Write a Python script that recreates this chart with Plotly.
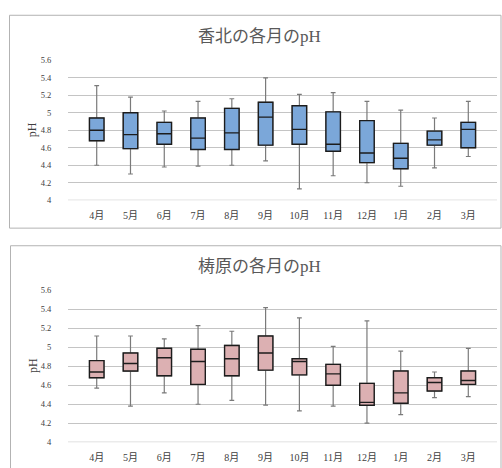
import plotly.graph_objects as go

months = ["4月", "5月", "6月", "7月", "8月", "9月", "10月", "11月", "12月", "1月", "2月", "3月"]

# 香北: monthly pH distribution (whisker ends, quartiles, median)
kohoku_low = [4.40, 4.30, 4.38, 4.39, 4.40, 4.45, 4.13, 4.28, 4.20, 4.16, 4.37, 4.50]
kohoku_q1 = [4.68, 4.59, 4.64, 4.58, 4.58, 4.63, 4.64, 4.56, 4.43, 4.36, 4.63, 4.60]
kohoku_med = [4.80, 4.75, 4.76, 4.71, 4.77, 4.95, 4.81, 4.64, 4.54, 4.48, 4.69, 4.81]
kohoku_q3 = [4.94, 5.00, 4.89, 4.94, 5.05, 5.12, 5.08, 5.01, 4.91, 4.65, 4.79, 4.89]
kohoku_high = [5.31, 5.18, 5.02, 5.13, 5.16, 5.40, 5.21, 5.23, 5.13, 5.03, 4.94, 5.13]

# 梼原: monthly pH distribution
yusuhara_low = [4.57, 4.38, 4.52, 4.40, 4.44, 4.39, 4.33, 4.38, 4.20, 4.29, 4.47, 4.48]
yusuhara_q1 = [4.68, 4.75, 4.70, 4.61, 4.70, 4.76, 4.71, 4.60, 4.39, 4.41, 4.54, 4.61]
yusuhara_med = [4.74, 4.83, 4.89, 4.85, 4.88, 4.94, 4.85, 4.72, 4.42, 4.52, 4.63, 4.65]
yusuhara_q3 = [4.86, 4.94, 4.99, 4.98, 5.02, 5.12, 4.88, 4.82, 4.62, 4.75, 4.68, 4.75]
yusuhara_high = [5.12, 5.12, 5.09, 5.23, 5.17, 5.42, 5.31, 5.01, 5.28, 4.96, 4.74, 4.99]

W, H = 502, 468
SERIF = "Liberation Serif, DejaVu Serif, Noto Sans CJK JP, serif"
GRID = "#c4c4c4"
WHISKER = "#7a7a7a"
OUTLINE = "#1c1c1c"


def px_x(x):
    return x / W


def px_y(y):
    return 1 - y / H


def add_boxes(fig, low, q1, med, q3, high, fill, xa, ya):
    # whiskers with caps (grey)
    fig.add_trace(go.Box(
        x=months, q1=q1, median=med, q3=q3, lowerfence=low, upperfence=high,
        fillcolor=fill, line=dict(color=WHISKER, width=1.2),
        width=0.43, whiskerwidth=0.33, boxpoints=False, hoverinfo="skip",
        xaxis=xa, yaxis=ya, showlegend=False,
    ))
    # box body with dark outline and median line
    fig.add_trace(go.Box(
        x=months, q1=q1, median=med, q3=q3, lowerfence=q1, upperfence=q3,
        fillcolor=fill, line=dict(color=OUTLINE, width=1.4),
        width=0.43, whiskerwidth=0, boxpoints=False,
        xaxis=xa, yaxis=ya, showlegend=False,
    ))


fig = go.Figure()
add_boxes(fig, kohoku_low, kohoku_q1, kohoku_med, kohoku_q3, kohoku_high, "#7ba7d9", "x", "y")
add_boxes(fig, yusuhara_low, yusuhara_q1, yusuhara_med, yusuhara_q3, yusuhara_high, "#dcb0b2", "x2", "y2")

x_dom = [px_x(68), px_x(497)]
xcommon = dict(
    domain=x_dom, showgrid=False, zeroline=False, showline=False,
    ticks="outside", ticklen=6, tickcolor="rgba(0,0,0,0)",
    tickfont=dict(family=SERIF, size=10, color="#404040"),
    categoryorder="array", categoryarray=months, fixedrange=True,
)
ycommon = dict(
    range=[4, 5.6], dtick=0.2, tick0=4, showgrid=True, gridcolor=GRID, gridwidth=1,
    zeroline=False, showline=False,
    ticks="outside", ticklen=14, tickcolor="rgba(0,0,0,0)",
    tickfont=dict(family=SERIF, size=8.5, color="#404040"), fixedrange=True,
)

fig.update_layout(
    width=W, height=H, margin=dict(l=0, r=0, t=0, b=0),
    paper_bgcolor="white", plot_bgcolor="white", boxmode="overlay",
    xaxis=dict(anchor="y", **xcommon),
    yaxis=dict(anchor="x", domain=[px_y(199.5), px_y(56.5)], **ycommon),
    xaxis2=dict(anchor="y2", **xcommon),
    yaxis2=dict(anchor="x2", domain=[px_y(446.7), px_y(291.7)], **ycommon),
)

# x-axis baseline at pH 4 in each panel
for yref in ("y", "y2"):
    fig.add_shape(type="line", xref="paper", yref=yref, x0=x_dom[0], x1=x_dom[1],
                  y0=4, y1=4, line=dict(color=GRID, width=1), layer="below")

# chart frames
fig.add_shape(type="rect", xref="paper", yref="paper",
              x0=px_x(9.5), x1=px_x(501), y0=px_y(228), y1=px_y(10.5),
              line=dict(color="#b3b3b3", width=1))
fig.add_shape(type="rect", xref="paper", yref="paper",
              x0=px_x(10.5), x1=px_x(501), y0=px_y(475), y1=px_y(246),
              line=dict(color="#b3b3b3", width=1))

title_font = dict(family=SERIF, size=17, color="#595959")
for text, ty in (("香北の各月のpH", 32), ("梼原の各月のpH", 267)):
    fig.add_annotation(text=text, xref="paper", yref="paper",
                       x=px_x(259), y=px_y(ty), xanchor="center", yanchor="middle",
                       showarrow=False, font=title_font)

axis_font = dict(family=SERIF, size=12, color="#404040")
for ax, ay in ((32, 128), (33, 369)):
    fig.add_annotation(text="pH", xref="paper", yref="paper", textangle=-90,
                       x=px_x(ax), y=px_y(ay), xanchor="center", yanchor="middle",
                       showarrow=False, font=axis_font)

fig.write_html("out.html")
